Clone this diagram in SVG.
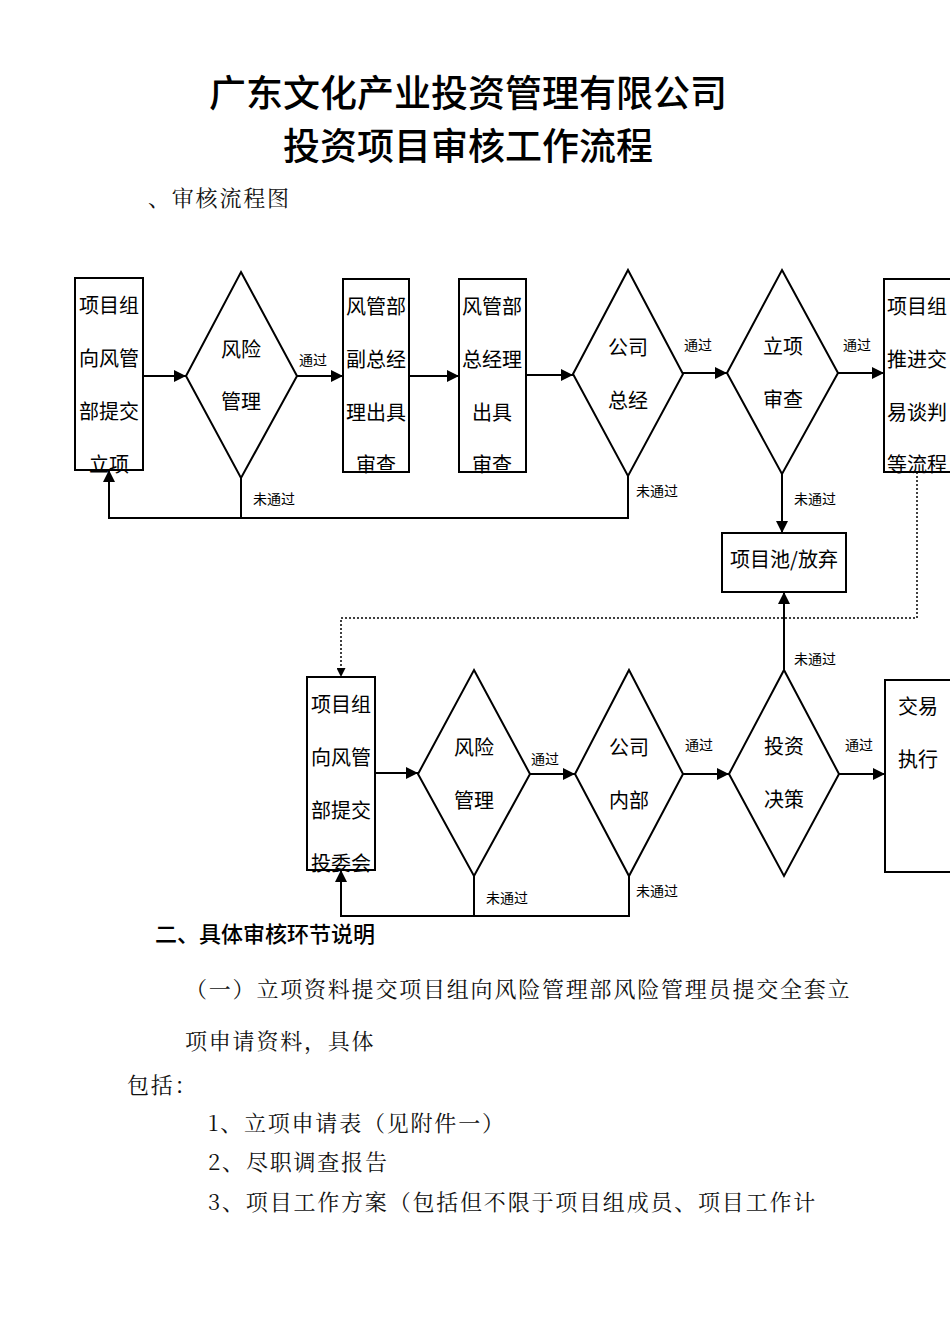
<svg xmlns="http://www.w3.org/2000/svg" width="950" height="1344" viewBox="0 0 950 1344">
<style>
.s{fill:none;stroke:#000;stroke-width:2}
.n{fill:#fff;stroke:#000;stroke-width:2}
.t{font-family:"Noto Sans CJK SC",sans-serif;font-size:20px;text-anchor:middle;fill:#000}
.l{font-family:"Noto Sans CJK SC",sans-serif;font-size:14px;fill:#000}
.b{font-family:"Noto Serif CJK SC","Liberation Serif","Noto Sans CJK SC",serif;font-size:22px;letter-spacing:1.8px;fill:#111}
</style>
<defs>
<marker id="a" viewBox="0 0 10 10" refX="10" refY="5" markerWidth="6" markerHeight="6" orient="auto"><path d="M0 0L10 5L0 10z" fill="#000"/></marker>
</defs>
<rect width="950" height="1344" fill="#fff"/>
<text x="468" y="107" font-family="Noto Sans CJK SC,sans-serif" font-size="37" font-weight="500" text-anchor="middle">广东文化产业投资管理有限公司</text>
<text x="468" y="160" font-family="Noto Sans CJK SC,sans-serif" font-size="37" font-weight="500" text-anchor="middle">投资项目审核工作流程</text>
<text x="148" y="206" class="b">、审核流程图</text>
<g id="connectors">
<line x1="143" y1="376" x2="186" y2="376" class="s" marker-end="url(#a)"/>
<line x1="297" y1="376" x2="343" y2="376" class="s" marker-end="url(#a)"/>
<line x1="409" y1="376" x2="459" y2="376" class="s" marker-end="url(#a)"/>
<line x1="526" y1="375" x2="573" y2="375" class="s" marker-end="url(#a)"/>
<line x1="683" y1="373" x2="727" y2="373" class="s" marker-end="url(#a)"/>
<line x1="838" y1="373" x2="884" y2="373" class="s" marker-end="url(#a)"/>
<polyline points="241,478 241,518" class="s"/>
<polyline points="628,476 628,518 109,518 109,470" class="s" marker-end="url(#a)"/>
<line x1="782" y1="474" x2="782" y2="533" class="s" marker-end="url(#a)"/>
<polyline points="917,472 917,618 341,618 341,677" fill="none" stroke="#000" stroke-width="1.5" stroke-dasharray="2,2" marker-end="url(#a)"/>
<line x1="375" y1="773" x2="418" y2="773" class="s" marker-end="url(#a)"/>
<line x1="530" y1="774" x2="575" y2="774" class="s" marker-end="url(#a)"/>
<line x1="683" y1="774" x2="729" y2="774" class="s" marker-end="url(#a)"/>
<line x1="839" y1="774" x2="885" y2="774" class="s" marker-end="url(#a)"/>
<line x1="784" y1="670" x2="784" y2="592" class="s" marker-end="url(#a)"/>
<polyline points="474,876 474,916" class="s"/>
<polyline points="629,876 629,916 341,916 341,870" class="s" marker-end="url(#a)"/>
<text x="299" y="365" class="l">通过</text>
<text x="684" y="350" class="l">通过</text>
<text x="843" y="350" class="l">通过</text>
<text x="253" y="504" class="l">未通过</text>
<text x="636" y="496" class="l">未通过</text>
<text x="794" y="504" class="l">未通过</text>
<text x="531" y="764" class="l">通过</text>
<text x="685" y="750" class="l">通过</text>
<text x="845" y="750" class="l">通过</text>
<text x="794" y="664" class="l">未通过</text>
<text x="486" y="903" class="l">未通过</text>
<text x="636" y="896" class="l">未通过</text>
</g>
<g id="n1"><rect x="75" y="278" width="68" height="192" class="n"/><text class="t"><tspan x="109" y="313">项目组</tspan><tspan x="109" y="366">向风管</tspan><tspan x="109" y="419">部提交</tspan><tspan x="109" y="472">立项</tspan></text></g>
<g id="n2"><polygon points="241,272 297,376 241,478 186,376" class="n"/><text class="t"><tspan x="241" y="357">风险</tspan><tspan x="241" y="409">管理</tspan></text></g>
<g id="n3"><rect x="343" y="279" width="66" height="193" class="n" stroke-width="2.5"/><text class="t"><tspan x="376" y="314">风管部</tspan><tspan x="376" y="367">副总经</tspan><tspan x="376" y="420">理出具</tspan><tspan x="376" y="472">审查</tspan></text></g>
<g id="n4"><rect x="459" y="279" width="67" height="193" class="n" stroke-width="2.5"/><text class="t"><tspan x="492" y="314">风管部</tspan><tspan x="492" y="367">总经理</tspan><tspan x="492" y="420">出具</tspan><tspan x="492" y="472">审查</tspan></text></g>
<g id="n5"><polygon points="628,270 683,374 628,476 573,374" class="n"/><text class="t"><tspan x="628" y="355">公司</tspan><tspan x="628" y="408">总经</tspan></text></g>
<g id="n6"><polygon points="782,270 838,373 782,474 727,373" class="n"/><text class="t"><tspan x="783" y="354">立项</tspan><tspan x="783" y="407">审查</tspan></text></g>
<g id="n7"><rect x="884" y="279" width="70" height="193" class="n"/><text class="t"><tspan x="917" y="314">项目组</tspan><tspan x="917" y="367">推进交</tspan><tspan x="917" y="420">易谈判</tspan><tspan x="917" y="472">等流程</tspan></text></g>
<g id="n8"><rect x="722" y="533" width="124" height="59" class="n"/><text class="t" x="784" y="567">项目池/放弃</text></g>
<g id="n9"><rect x="307" y="677" width="68" height="193" class="n"/><text class="t"><tspan x="341" y="712">项目组</tspan><tspan x="341" y="765">向风管</tspan><tspan x="341" y="818">部提交</tspan><tspan x="341" y="871">投委会</tspan></text></g>
<g id="n10"><polygon points="474,670 530,774 474,876 418,774" class="n"/><text class="t"><tspan x="474" y="755">风险</tspan><tspan x="474" y="808">管理</tspan></text></g>
<g id="n11"><polygon points="629,670 683,774 629,876 575,774" class="n"/><text class="t"><tspan x="629" y="755">公司</tspan><tspan x="629" y="808">内部</tspan></text></g>
<g id="n12"><polygon points="784,670 839,774 784,876 729,774" class="n"/><text class="t"><tspan x="784" y="754">投资</tspan><tspan x="784" y="807">决策</tspan></text></g>
<g id="n13"><rect x="885" y="680" width="70" height="192" class="n"/><text class="t"><tspan x="918" y="714">交易</tspan><tspan x="918" y="767">执行</tspan></text></g>
<text x="155" y="942" font-family="Noto Sans CJK SC,sans-serif" font-size="22" font-weight="500">二、具体审核环节说明</text>
<text x="185" y="997" class="b">（一）立项资料提交项目组向风险管理部风险管理员提交全套立</text>
<text x="185" y="1049" class="b">项申请资料，具体</text>
<text x="127" y="1093" class="b">包括：</text>
<text x="208" y="1131" class="b">1、立项申请表（见附件一）</text>
<text x="208" y="1170" class="b">2、尽职调查报告</text>
<text x="208" y="1210" class="b">3、项目工作方案（包括但不限于项目组成员、项目工作计</text>
</svg>
